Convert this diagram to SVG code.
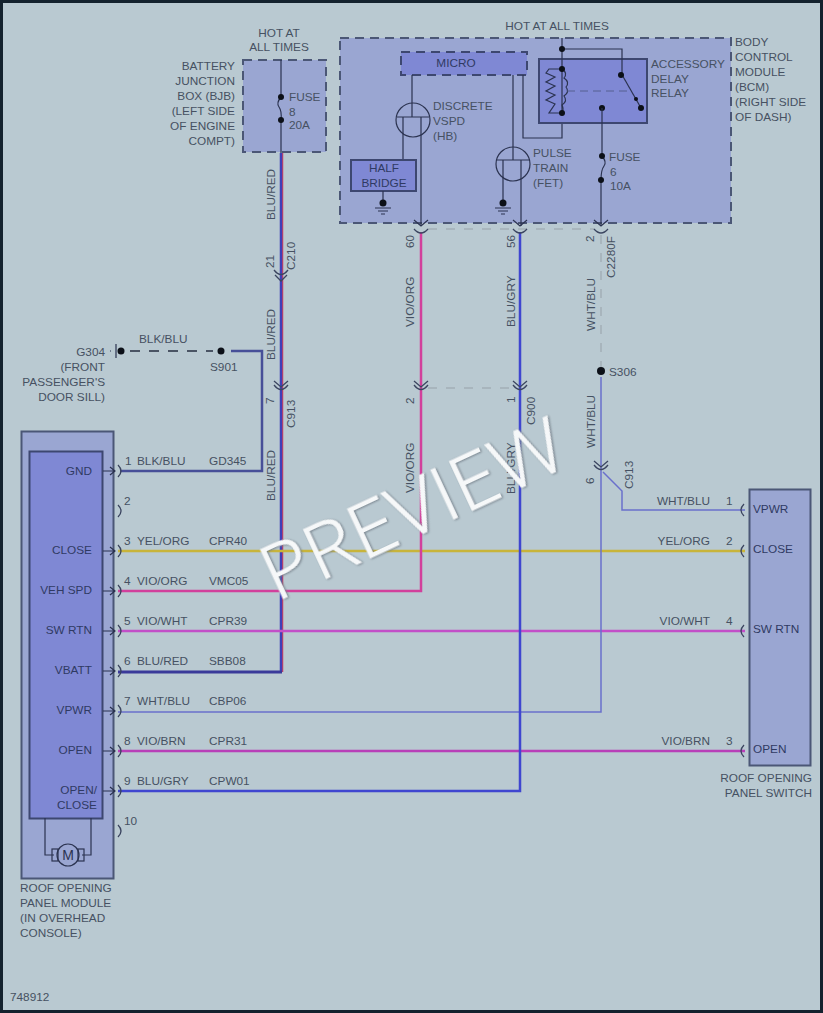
<svg xmlns="http://www.w3.org/2000/svg" width="823" height="1013" viewBox="0 0 823 1013">
<style>
text{font-family:"Liberation Sans",Arial,sans-serif;font-size:11.800px;fill:#465162}
.n{fill:#2f3a63}
.e{text-anchor:end}.m{text-anchor:middle}
.box{fill:#9aa6d2;stroke:#4b5776;stroke-width:2}
.dash{fill:#9aa6d2;stroke:#4b5776;stroke-width:2;stroke-dasharray:9 6}
.inner{fill:#7f88d4;stroke:#3d4770;stroke-width:2}
.thin{fill:none;stroke:#2b3350;stroke-width:1.2}
.dot{fill:#0c1018}
.pin{fill:none;stroke:#3b4560;stroke-width:1.3}
.gdash{fill:none;stroke:#a2aeb6;stroke-width:1.500;stroke-dasharray:9 9}
.mk{fill:none;stroke:#2b3350;stroke-width:1.2}
</style>
<rect width="823" height="1013" fill="#b9c9d1"/>
<rect x="1.500" y="1.500" width="820" height="1010" fill="none" stroke="#14222e" stroke-width="3"/>

<g id="connectors" fill="none">
<path d="M282.500 153V672" stroke="#d2405c" stroke-width="1.500"/><path d="M281 153V672" stroke="#3f3fb8" stroke-width="2.500"/>
<path d="M118 672H282" stroke="#3a3a9a" stroke-width="3"/>
<path d="M231 351H262V471H120" stroke="#474f98" stroke-width="2.500"/>
<path d="M118 551H745" stroke="#c8b43a" stroke-width="2.500"/>
<path d="M421 232V591H118" stroke="#d2409c" stroke-width="2.500"/>
<path d="M118 631H745" stroke="#c24fc8" stroke-width="2.500"/>
<path d="M601 377V712H118" stroke="#6a70cc" stroke-width="1.500"/>
<path d="M118 751H745" stroke="#b83fb8" stroke-width="2.500"/>
<path d="M520 232V791H118" stroke="#3f46d0" stroke-width="2.500"/>
<path d="M603 472L622 491V510H745" stroke="#6a70cc" stroke-width="1.500"/>
<path class="gdash" d="M601 235V372"/>
<path class="gdash" d="M428 229H594"/>
<path class="gdash" d="M428 388H513"/>
<path d="M130 351H213" stroke="#4a5464" stroke-width="2" stroke-dasharray="10 9"/>
<g class="pin">
<path d="M274 270q7 9 14 0M275 275l6 6l6-6"/>
<path d="M274 381l7 6l7-6M274 385q7 9 14 0"/>
<path d="M414 229q7 8 14 0"/>
<path d="M513 229q7 8 14 0"/>
<path d="M594 229q7 8 14 0"/>
<path d="M414 381l7 6l7-6M414 385q7 9 14 0"/>
<path d="M513 381l7 6l7-6M513 385q7 9 14 0"/>
<path d="M594 461l7 6l7-6M594 465q7 9 14 0"/>
</g>
<g class="pin">
<path d="M118 465q6 6 0 12M118 505q6 6 0 12M118 545q6 6 0 12M118 585q6 6 0 12M118 625q6 6 0 12M118 665q6 6 0 12M118 705q6 6 0 12M118 745q6 6 0 12M118 785q6 6 0 12M118 825q6 6 0 12"/>
<path d="M744 504q-6 6 0 12M744 545q-6 6 0 12M744 625q-6 6 0 12M744 745q-6 6 0 12"/>
</g>
</g>

<g id="bjb">
<rect class="dash" x="243" y="60" width="83" height="92"/>
<path class="thin" d="M281 60V97M281 120V153M281 97q-5 6-2 10t2 13"/>
<circle class="dot" cx="281" cy="97" r="3"/><circle class="dot" cx="281" cy="120" r="3"/>
<text x="289" y="101">FUSE</text><text x="289" y="116">8</text><text x="289" y="129">20A</text>
<text class="m" x="279" y="37">HOT AT</text><text class="m" x="279" y="51">ALL TIMES</text>
<text class="e" x="235" y="70">BATTERY</text><text class="e" x="235" y="85">JUNCTION</text><text class="e" x="235" y="100">BOX (BJB)</text><text class="e" x="235" y="115">(LEFT SIDE</text><text class="e" x="235" y="130">OF ENGINE</text><text class="e" x="235" y="145">COMPT)</text>
</g>

<g id="bcm">
<rect class="dash" x="340" y="38" width="391" height="185"/>
<rect class="inner" x="401" y="52" width="126" height="23" stroke-dasharray="9 6"/>
<text class="m n" x="456" y="67">MICRO</text>
<text class="m" x="557" y="30">HOT AT ALL TIMES</text>
<text x="735" y="46">BODY</text><text x="735" y="61">CONTROL</text><text x="735" y="76">MODULE</text><text x="735" y="91">(BCM)</text><text x="735" y="106">(RIGHT SIDE</text><text x="735" y="121">OF DASH)</text>

<circle class="thin" cx="413" cy="120" r="17"/>
<path class="thin" d="M412 75V117M397 117H429M403 117V160M421 117V226"/>
<rect class="inner" x="351" y="160" width="65" height="31"/>
<text class="m n" x="384" y="172">HALF</text><text class="m n" x="384" y="187">BRIDGE</text>
<path class="thin" d="M383 191V203M375 208H391M378 211H388M381 214H385"/><circle class="dot" cx="383" cy="203" r="3.500"/>
<text x="433" y="110">DISCRETE</text><text x="433" y="125">VSPD</text><text x="433" y="140">(HB)</text>

<circle class="thin" cx="513" cy="164" r="17"/>
<path class="thin" d="M513 75V160M497 160H530M503 160V203M521 160V226M523 75V138H562V113"/>
<path class="thin" d="M495 208H511M498 211H508M501 214H505"/><circle class="dot" cx="503" cy="203" r="3.500"/>
<text x="533" y="157">PULSE</text><text x="533" y="172">TRAIN</text><text x="533" y="187">(FET)</text>

<rect class="inner" x="539" y="59" width="108" height="64"/>
<path class="thin" d="M562 38V113M562 49H622V75"/>
<path class="thin" d="M562 69H549L546 73L555 77L546 82L555 86L546 91L555 95L546 100L555 104L549 113H562"/>
<path class="thin" d="M562 69q6 4 2 9q6 4 2 9q4 5-2 9q4 5-2 9q2 4 0 8"/>
<path d="M567 91H630" fill="none" stroke="#4b5580" stroke-width=".8" stroke-dasharray="8 5"/>
<path class="thin" d="M621 73L641 108"/>
<circle class="dot" cx="562" cy="49" r="3"/><circle class="dot" cx="562" cy="69" r="3"/><circle class="dot" cx="562" cy="113" r="3"/><circle class="dot" cx="621" cy="75" r="3"/><circle class="dot" cx="636" cy="99" r="2"/><circle class="dot" cx="641" cy="108" r="3"/><circle class="dot" cx="602" cy="108" r="3"/>
<text x="651" y="68">ACCESSORY</text><text x="651" y="83">DELAY</text><text x="651" y="97">RELAY</text>
<path class="thin" d="M602 108V156M601 180V226M602 156q5 6 2 10t-3 14"/>
<circle class="dot" cx="602" cy="156" r="3"/><circle class="dot" cx="601" cy="180" r="3"/>
<text x="609" y="161">FUSE</text><text x="610" y="176">6</text><text x="610" y="190">10A</text>
<path class="mk" d="M414 220l7 6l7-6M513 220l7 6l7-6M594 220l7 6l7-6"/>
</g>

<g id="g304">
<path class="thin" d="M116 344V358"/><circle class="dot" cx="121" cy="351" r="3.500"/><path class="thin" d="M110 351h1"/>
<circle class="dot" cx="221" cy="351" r="3.500"/>
<text class="e" x="105" y="356">G304</text><text class="e" x="105" y="371">(FRONT</text><text class="e" x="105" y="386">PASSENGER'S</text><text class="e" x="105" y="401">DOOR SILL)</text>
<text x="139" y="343">BLK/BLU</text><text x="210" y="371">S901</text>
</g>

<g id="s306"><circle class="dot" cx="601" cy="371" r="4"/><text x="609" y="376">S306</text></g>

<g id="module">
<rect class="box" x="21.500" y="431.500" width="92" height="447"/>
<rect class="inner" x="29.500" y="451.500" width="73" height="367"/>
<path class="thin" d="M45 818V855H54M91 818V855H82"/>
<rect class="thin" x="52" y="849" width="6" height="12"/><rect class="thin" x="78" y="849" width="6" height="12"/>
<circle class="thin" cx="68" cy="855" r="11"/>
<text class="m" x="68" y="860" style="font-size:14px;fill:#2b3350">M</text>
<path class="mk" d="M103 471H114M110 467l5 4l-5 4M103 551H114M110 547l5 4l-5 4M103 591H114M110 587l5 4l-5 4M103 631H114M110 627l5 4l-5 4M103 671H114M110 667l5 4l-5 4M103 711H114M110 707l5 4l-5 4M103 751H114M110 747l5 4l-5 4M103 791H114M110 787l5 4l-5 4"/>
<text class="e n" x="92" y="475">GND</text><text class="e n" x="92" y="554">CLOSE</text><text class="e n" x="92" y="594">VEH SPD</text><text class="e n" x="92" y="634">SW RTN</text><text class="e n" x="92" y="674">VBATT</text><text class="e n" x="92" y="714">VPWR</text><text class="e n" x="92" y="754">OPEN</text><text class="e n" x="97" y="794">OPEN/</text><text class="e n" x="97" y="809">CLOSE</text>
<text x="20" y="892">ROOF OPENING</text><text x="20" y="907">PANEL MODULE</text><text x="20" y="922">(IN OVERHEAD</text><text x="20" y="937">CONSOLE)</text>
</g>

<g id="switch">
<rect class="box" x="749.500" y="489.500" width="61" height="276"/>
<text class="n" x="753" y="513">VPWR</text><text class="n" x="753" y="553">CLOSE</text><text class="n" x="753" y="633">SW RTN</text><text class="n" x="753" y="753">OPEN</text>
<text class="e" x="812" y="782">ROOF OPENING</text><text class="e" x="812" y="797">PANEL SWITCH</text>
</g>

<g id="labels">
<text x="125" y="465">1</text><text x="137" y="465">BLK/BLU</text><text x="209" y="465">GD345</text>
<text x="124" y="505">2</text>
<text x="124" y="545">3</text><text x="137" y="545">YEL/ORG</text><text x="209" y="545">CPR40</text>
<text x="124" y="585">4</text><text x="137" y="585">VIO/ORG</text><text x="209" y="585">VMC05</text>
<text x="124" y="625">5</text><text x="137" y="625">VIO/WHT</text><text x="209" y="625">CPR39</text>
<text x="124" y="665">6</text><text x="137" y="665">BLU/RED</text><text x="209" y="665">SBB08</text>
<text x="124" y="705">7</text><text x="137" y="705">WHT/BLU</text><text x="209" y="705">CBP06</text>
<text x="124" y="745">8</text><text x="137" y="745">VIO/BRN</text><text x="209" y="745">CPR31</text>
<text x="124" y="785">9</text><text x="137" y="785">BLU/GRY</text><text x="209" y="785">CPW01</text>
<text x="124" y="825">10</text>
<text class="e" x="710" y="505">WHT/BLU</text><text x="726" y="505">1</text>
<text class="e" x="710" y="545">YEL/ORG</text><text x="726" y="545">2</text>
<text class="e" x="710" y="625">VIO/WHT</text><text x="726" y="625">4</text>
<text class="e" x="710" y="745">VIO/BRN</text><text x="726" y="745">3</text>
<text x="10" y="1001">748912</text>
<text transform="translate(275 220) rotate(-90)">BLU/RED</text>
<text transform="translate(274 268) rotate(-90)">21</text>
<text transform="translate(295 270) rotate(-90)">C210</text>
<text transform="translate(275 360) rotate(-90)">BLU/RED</text>
<text transform="translate(274 404) rotate(-90)">7</text>
<text transform="translate(295 428) rotate(-90)">C913</text>
<text transform="translate(275 501) rotate(-90)">BLU/RED</text>
<text transform="translate(414 248) rotate(-90)">60</text>
<text transform="translate(414 327) rotate(-90)">VIO/ORG</text>
<text transform="translate(414 404) rotate(-90)">2</text>
<text transform="translate(414 493) rotate(-90)">VIO/ORG</text>
<text transform="translate(515 248) rotate(-90)">56</text>
<text transform="translate(515 327) rotate(-90)">BLU/GRY</text>
<text transform="translate(515 403) rotate(-90)">1</text>
<text transform="translate(535 425) rotate(-90)">C900</text>
<text transform="translate(515 494) rotate(-90)">BLU/GRY</text>
<text transform="translate(594 242) rotate(-90)">2</text>
<text transform="translate(615 278) rotate(-90)">C2280F</text>
<text transform="translate(595 331) rotate(-90)">WHT/BLU</text>
<text transform="translate(595 448) rotate(-90)">WHT/BLU</text>
<text transform="translate(594 484) rotate(-90)">6</text>
<text transform="translate(633 489) rotate(-90)">C913</text>
</g>

<text id="watermark" transform="translate(276 602) rotate(-25)" textLength="326" lengthAdjust="spacingAndGlyphs" style="font-size:76px;fill:#f6f8f9;stroke:#f6f8f9;stroke-width:1;font-family:'Open Sans','Liberation Sans',sans-serif;font-weight:300;filter:drop-shadow(1px 1px 1px #77828c)">PREVIEW</text>
</svg>
